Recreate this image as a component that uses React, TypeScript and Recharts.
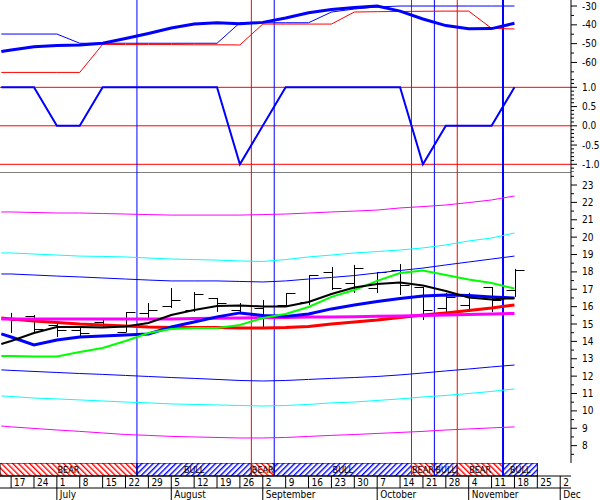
import {
  Bar,
  ComposedChart,
  Line,
  ReferenceArea,
  ReferenceLine,
  XAxis,
  YAxis,
} from "recharts"

const FONT = "'Liberation Sans Narrow', 'DejaVu Sans Condensed', Arial, sans-serif"

// days counted from 17 June, one row a week (first row is the lead-in)
const days = [-3, 0, 7, 14, 21, 28, 35, 42, 49, 56, 63, 70, 77, 84, 91, 98, 105, 112, 119, 126, 133, 140, 147, 154]

// top panel
const topThick = [-54.2, -53.4, -51.6, -51.0, -50.7, -49.8, -47.3, -44.6, -41.7, -39.6, -38.9, -39.4, -38.7, -36.4, -33.6, -31.9, -30.8, -30.0, -32.7, -36.9, -40.4, -42.1, -42.0, -39.2]
const topThin = [-44.9, -44.9, -44.9, -44.9, -49.8, -49.8, -49.8, -49.8, -49.8, -49.8, -49.8, -38.9, -38.9, -38.9, -38.9, -33.2, -31.6, -30.5, -30.0, -30.0, -30.0, -30.0, -30.0, -30.0]
const topRed = [-65.3, -65.3, -65.3, -65.3, -65.3, -50.4, -50.5, -50.5, -50.5, -50.6, -50.6, -50.7, -39.6, -39.6, -39.6, -39.6, -33.2, -33.0, -32.9, -32.8, -32.7, -32.7, -41.9, -42.2]

// middle panel
const signal = [1, 1, 1, 0, 0, 1, 1, 1, 1, 1, 1, -1, 0, 1, 1, 1, 1, 1, 1, -1, 0, 0, 0, 1]

// price bars
const barHigh = [null, 15.64, 15.52, 15.06, 14.83, 15.35, 15.69, 16.21, 17.07, 16.84, 16.5, 16.21, 16.38, 16.79, 17.82, 18.28, 18.4, 17.99, 18.45, 17.13, 16.79, 16.79, 17.13, 18.17]
const barLow = [null, 14.48, 14.54, 14.25, 14.25, 14.77, 14.54, 15.35, 15.92, 15.69, 15.69, 15.64, 14.83, 15.98, 16.1, 16.96, 16.79, 16.79, 16.67, 15.23, 15.69, 15.69, 15.69, 16.56]
const barOpen = [null, 15.35, 15.46, 14.94, 14.66, 15.12, 14.54, 15.64, 16.04, 15.81, 16.5, 15.81, 15.92, 16.1, 16.27, 18.0, 17.36, 17.07, 18.11, 17.13, 15.92, 16.1, 17.13, 16.96]
const barClose = [null, 15.23, 14.71, 14.66, 14.48, 14.83, 15.69, 15.81, 16.38, 16.73, 16.21, 16.1, 15.35, 16.79, 17.82, 17.07, 18.22, 17.99, 17.25, 15.81, 16.56, 16.67, 16.38, 18.11]

// price panel lines
const upperMagenta = [21.45, 21.45, 21.42, 21.39, 21.39, 21.36, 21.33, 21.3, 21.27, 21.27, 21.27, 21.27, 21.3, 21.33, 21.39, 21.45, 21.5, 21.56, 21.68, 21.76, 21.85, 21.99, 22.14, 22.37]
const upperCyan = [19.09, 19.09, 19.03, 18.97, 18.91, 18.89, 18.86, 18.8, 18.74, 18.71, 18.68, 18.63, 18.6, 18.71, 18.86, 18.97, 19.09, 19.17, 19.26, 19.38, 19.55, 19.78, 19.95, 20.24]
const upperBlue = [17.88, 17.88, 17.82, 17.76, 17.71, 17.65, 17.59, 17.53, 17.48, 17.48, 17.48, 17.45, 17.42, 17.48, 17.59, 17.68, 17.79, 17.94, 18.08, 18.22, 18.4, 18.57, 18.74, 18.91]
const lowerBlue = [12.36, 12.33, 12.27, 12.21, 12.15, 12.1, 12.04, 11.98, 11.92, 11.87, 11.81, 11.75, 11.72, 11.75, 11.81, 11.87, 11.92, 11.98, 12.07, 12.18, 12.3, 12.41, 12.53, 12.64]
const lowerCyan = [10.86, 10.83, 10.74, 10.69, 10.63, 10.57, 10.51, 10.46, 10.4, 10.37, 10.34, 10.31, 10.28, 10.31, 10.37, 10.46, 10.51, 10.6, 10.69, 10.8, 10.89, 11.0, 11.12, 11.26]
const lowerMagenta = [9.13, 9.08, 8.99, 8.9, 8.82, 8.73, 8.64, 8.59, 8.53, 8.5, 8.47, 8.44, 8.44, 8.47, 8.53, 8.59, 8.64, 8.7, 8.76, 8.82, 8.9, 8.96, 9.02, 9.08]
const midMagenta = [15.29, 15.29, 15.29, 15.29, 15.29, 15.29, 15.29, 15.29, 15.29, 15.32, 15.33, 15.35, 15.36, 15.38, 15.4, 15.41, 15.42, 15.44, 15.46, 15.49, 15.52, 15.55, 15.58, 15.61]
const slowRed = [15.35, 15.29, 15.17, 15.09, 15.0, 14.94, 14.89, 14.83, 14.8, 14.8, 14.8, 14.77, 14.77, 14.8, 14.86, 15.0, 15.12, 15.23, 15.38, 15.52, 15.64, 15.78, 15.92, 16.1]
const midBlue = [14.43, 14.25, 13.79, 14.08, 14.25, 14.31, 14.37, 14.43, 14.83, 15.12, 15.41, 15.64, 15.49, 15.44, 15.58, 15.87, 16.1, 16.3, 16.47, 16.61, 16.67, 16.64, 16.56, 16.5]
const fastGreen = [13.16, 13.16, 13.13, 13.13, 13.39, 13.62, 14.02, 14.48, 14.71, 14.77, 14.77, 14.94, 15.35, 15.58, 15.98, 16.56, 16.96, 17.48, 17.94, 18.08, 17.82, 17.56, 17.36, 17.04]
const smoothBlack = [13.85, 14.02, 14.48, 14.83, 14.83, 14.8, 14.86, 15.06, 15.52, 15.81, 16.04, 16.07, 16.01, 16.01, 16.27, 16.73, 17.1, 17.3, 17.39, 17.22, 16.9, 16.53, 16.41, 16.5]

// BEAR / BULL band
const signalStart = [-3.4, 38.5, 73.5, 80.5, 122.5, 129.5, 136.5, 150.5]
const signalEnd = [38.5, 73.5, 80.5, 122.5, 129.5, 136.5, 150.5, 161]
const signalLabel = ["BEAR", "BULL", "BEAR", "BULL", "BEAR", "BULL", "BEAR", "BULL"]

// date axis
const dateTicks = [0, 7, 14, 21, 28, 35, 42, 49, 56, 63, 70, 77, 84, 91, 98, 105, 112, 119, 126, 133, 140, 147, 154, 161, 168]
const dateLabels = ["17", "24", "1", "8", "15", "22", "29", "5", "12", "19", "26", "2", "9", "16", "23", "30", "7", "14", "21", "28", "4", "11", "18", "25", "2"]
const monthTicks = [14, 49, 77, 112, 140, 168]
const monthLabels = ["July", "August", "September", "October", "November", "Dec"]

const X_DOMAIN: [number, number] = [-3.4, 171.3]
const ZERO = { top: 0, right: 0, bottom: 0, left: 0 }

const rows = days.map((day, i) => ({
  day,
  range: barHigh[i] == null ? null : [barLow[i], barHigh[i]],
  high: barHigh[i],
  low: barLow[i],
  open: barOpen[i],
  close: barClose[i],
  topThick: topThick[i],
  topThin: topThin[i],
  topRed: topRed[i],
  signal: signal[i],
  upperMagenta: upperMagenta[i],
  upperCyan: upperCyan[i],
  upperBlue: upperBlue[i],
  lowerBlue: lowerBlue[i],
  lowerCyan: lowerCyan[i],
  lowerMagenta: lowerMagenta[i],
  midMagenta: midMagenta[i],
  slowRed: slowRed[i],
  midBlue: midBlue[i],
  fastGreen: fastGreen[i],
  smoothBlack: smoothBlack[i],
}))

const reversals = signalStart.slice(1).map((day, i) => ({
  day,
  color: signalLabel[i + 1] === "BULL" ? "#0000ff" : "#ff0000",
  width: i === signalStart.length - 2 ? 2 : 1,
}))

const steps = (from: number, to: number, step: number) => {
  const out: number[] = []
  for (let v = from; v <= to + 1e-9; v += step) out.push(Math.round(v * 100) / 100)
  return out
}

const axisTick = (majors: number[], digits: number) => (p: any) => {
  const v = p.payload.value
  const major = majors.some((m) => Math.abs(m - v) < 1e-6)
  return (
    <g>
      <line x1={p.x} x2={p.x + (major ? 6 : 3)} y1={p.y} y2={p.y} stroke="#000" />
      {major && (
        <text x={p.x + 11} y={p.y} dy="0.35em" fontSize={10} fontFamily={FONT} fill="#000">
          {v.toFixed(digits)}
        </text>
      )}
    </g>
  )
}

const rowTick = (ticks: number[], labels: string[]) => (p: any) => {
  const label = labels[ticks.indexOf(p.payload.value)]
  return (
    <g>
      <line x1={p.x} x2={p.x} y1={p.y} y2={p.y + 12} stroke="#000" />
      <text x={p.x + 3} y={p.y + 10} fontSize={10} fontFamily={FONT} fill="#000">
        {label}
      </text>
    </g>
  )
}

function OhlcShape(props: any) {
  const { x, y, width, height, payload } = props
  if (payload.high == null) return null
  const cx = Math.round(x + width / 2) + 0.5
  const toY = (v: number) => Math.round(y + ((payload.high - v) / (payload.high - payload.low)) * height) + 0.5
  return (
    <g stroke="#000" strokeWidth={1}>
      <line x1={cx} x2={cx} y1={y} y2={y + height} />
      <line x1={cx - 9} x2={cx} y1={toY(payload.open)} y2={toY(payload.open)} />
      <line x1={cx} x2={cx + 9} y1={toY(payload.close)} y2={toY(payload.close)} />
    </g>
  )
}

const verticals = () =>
  reversals.map((r) => (
    <ReferenceLine key={r.day} x={r.day} stroke={r.color} strokeWidth={r.width} />
  ))

const hiddenX = <XAxis dataKey="day" type="number" domain={X_DOMAIN} allowDataOverflow hide />

const priceLine = (key: string, color: string, width: number) => (
  <Line
    dataKey={key}
    type="linear"
    stroke={color}
    strokeWidth={width}
    dot={false}
    activeDot={false}
    isAnimationActive={false}
  />
)

export default function App() {
  return (
    <div style={{ position: "absolute", left: 0, top: 0, width: 600, height: 500, background: "#fff" }}>
      {/* top panel */}
      <div style={{ position: "absolute", left: 0, top: 0 }}>
        <ComposedChart width={600} height={79} data={rows} margin={ZERO}>
          {hiddenX}
          <YAxis
            orientation="right"
            width={29}
            type="number"
            domain={[-68.8, -26.8]}
            allowDataOverflow
            ticks={[-30, -35, -40, -45, -50, -55, -60, -65]}
            interval={0}
            tickSize={0}
            tickMargin={0}
            tickLine={false}
            axisLine={{ stroke: "#000" }}
            tick={axisTick([-30, -40, -50, -60], 0)}
          />
          {verticals()}
          {priceLine("topRed", "#ff0000", 1)}
          {priceLine("topThin", "#0000ff", 1)}
          {priceLine("topThick", "#0000ff", 3)}
        </ComposedChart>
      </div>

      {/* middle panel */}
      <div style={{ position: "absolute", left: 0, top: 79 }}>
        <ComposedChart width={600} height={93} data={rows} margin={ZERO}>
          {hiddenX}
          <YAxis
            orientation="right"
            width={29}
            type="number"
            domain={[-1.2, 1.216]}
            allowDataOverflow
            ticks={steps(-1.2, 1.2, 0.1)}
            interval={0}
            tickSize={0}
            tickMargin={0}
            tickLine={false}
            axisLine={{ stroke: "#000" }}
            tick={axisTick([1, 0.5, 0, -0.5, -1], 1)}
          />
          <ReferenceLine y={1} stroke="#ff0000" />
          <ReferenceLine y={0} stroke="#ff0000" />
          <ReferenceLine y={-1} stroke="#ff0000" />
          {verticals()}
          {priceLine("signal", "#0000ff", 2)}
        </ComposedChart>
      </div>

      {/* price panel */}
      <div style={{ position: "absolute", left: 0, top: 172 }}>
        <ComposedChart width={600} height={291} data={rows} margin={ZERO}>
          {hiddenX}
          <YAxis
            orientation="right"
            width={29}
            type="number"
            domain={[7, 23.75]}
            allowDataOverflow
            ticks={steps(7.5, 23.5, 0.5)}
            interval={0}
            tickSize={0}
            tickMargin={0}
            tickLine={false}
            axisLine={{ stroke: "#000" }}
            tick={axisTick(steps(8, 23, 1), 0)}
          />
          <ReferenceLine y={23.75} stroke="#000" />
          {verticals()}
          {priceLine("upperMagenta", "#ff00ff", 1)}
          {priceLine("upperCyan", "#00ffff", 1)}
          {priceLine("upperBlue", "#0000ff", 1)}
          {priceLine("lowerBlue", "#0000ff", 1)}
          {priceLine("lowerCyan", "#00ffff", 1)}
          {priceLine("lowerMagenta", "#ff00ff", 1)}
          {priceLine("slowRed", "#ff0000", 3)}
          {priceLine("midMagenta", "#ff00ff", 3)}
          {priceLine("midBlue", "#0000ff", 3)}
          {priceLine("fastGreen", "#00ff00", 2)}
          {priceLine("smoothBlack", "#000000", 2)}
          <Bar dataKey="range" barSize={2} shape={<OhlcShape />} isAnimationActive={false} />
        </ComposedChart>
      </div>

      {/* BEAR / BULL band and date axis */}
      <div style={{ position: "absolute", left: 0, top: 463 }}>
        <ComposedChart width={600} height={37} data={rows} margin={ZERO}>
          <defs>
            <pattern id="bear" width="4" height="4" patternUnits="userSpaceOnUse" patternTransform="rotate(-45)">
              <line x1="0.7" y1="0" x2="0.7" y2="4" stroke="#ff0000" strokeWidth="1.4" />
            </pattern>
            <pattern id="bull" width="4" height="4" patternUnits="userSpaceOnUse" patternTransform="rotate(45)">
              <line x1="0.7" y1="0" x2="0.7" y2="4" stroke="#0000ff" strokeWidth="1.4" />
            </pattern>
          </defs>
          <XAxis
            xAxisId="d"
            dataKey="day"
            type="number"
            domain={X_DOMAIN}
            allowDataOverflow
            ticks={dateTicks}
            interval={0}
            height={12}
            tickSize={0}
            tickMargin={0}
            tickLine={false}
            axisLine={{ stroke: "#000" }}
            tick={rowTick(dateTicks, dateLabels)}
          />
          <XAxis
            xAxisId="m"
            dataKey="day"
            type="number"
            domain={X_DOMAIN}
            allowDataOverflow
            ticks={monthTicks}
            interval={0}
            height={12}
            tickSize={0}
            tickMargin={0}
            tickLine={false}
            axisLine={{ stroke: "#000" }}
            tick={rowTick(monthTicks, monthLabels)}
          />
          <YAxis
            orientation="right"
            width={29}
            type="number"
            domain={[0, 1]}
            allowDataOverflow
            tick={false}
            tickLine={false}
            axisLine={false}
          />
          {signalStart.map((s, i) => (
            <ReferenceArea
              key={s}
              xAxisId="d"
              x1={s}
              x2={signalEnd[i]}
              y1={0}
              y2={1}
              ifOverflow="visible"
              fill={signalLabel[i] === "BULL" ? "url(#bull)" : "url(#bear)"}
              fillOpacity={1}
              stroke="#000"
              strokeWidth={1}
              label={{ value: signalLabel[i], position: "center", fill: "#000", fontSize: 9, fontFamily: FONT }}
            />
          ))}
          {reversals.map((r) => (
            <ReferenceLine key={r.day} xAxisId="d" x={r.day} stroke={r.color} strokeWidth={r.width} />
          ))}
        </ComposedChart>
      </div>
    </div>
  )
}
